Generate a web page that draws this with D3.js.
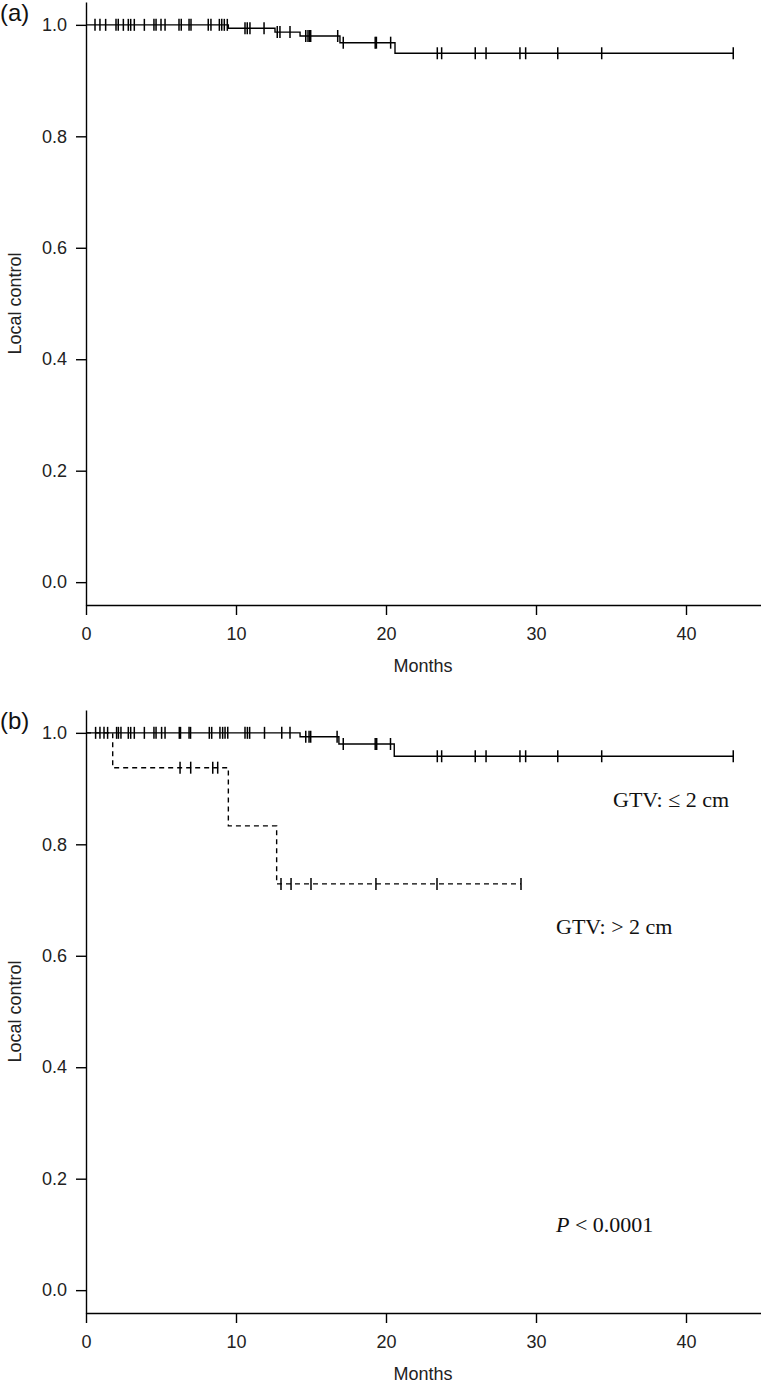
<!DOCTYPE html>
<html>
<head>
<meta charset="utf-8">
<script src="https://cdn.jsdelivr.net/npm/d3@7"></script>
<style>
  body { margin: 0; background: #fff; }
  svg { display: block; }
</style>
</head>
<body>
<div id="chart"></div>
<script>
// Panel (a): all lesions
const aEventTimes = [0, 9.49, 12.6, 14.27, 16.93, 20.6];
const aEventSurv = [1, 0.994, 0.987, 0.980, 0.968, 0.949];
const aEnd = 43.15;
const aCensor = [0.6, 0.93, 1.31, 2.0, 2.15, 2.49, 2.82, 2.98, 3.22, 3.89, 4.53, 4.67, 5.0, 5.27,
  6.2, 6.35, 6.87, 7.0, 8.15, 8.33, 8.89, 9.05, 9.22, 9.42, 10.6, 10.75, 10.93, 11.87, 12.75,
  12.93, 13.6, 14.65, 14.8, 14.9, 14.98, 16.78, 17.15, 19.28, 19.36, 20.31, 23.42, 23.71,
  25.95, 26.67, 28.93, 29.31, 31.45, 34.38, 43.15];

// Panel (b): GTV <= 2 cm
const smallEventTimes = [0, 14.27, 16.86, 20.55];
const smallEventSurv = [1, 0.993, 0.980, 0.958];
const smallEnd = 43.15;
const smallCensor = [0.64, 0.93, 1.2, 1.44, 2.04, 2.16, 2.33, 2.82, 2.98, 3.22, 3.89, 4.53, 4.67,
  5.04, 5.27, 6.22, 6.3, 6.87, 6.97, 8.22, 8.38, 8.93, 9.11, 9.27, 9.45, 10.6, 10.76, 10.91,
  11.9, 13.05, 13.6, 14.65, 14.87, 14.98, 16.74, 17.15, 19.28, 19.38, 20.3, 23.42, 23.71,
  25.95, 26.67, 28.93, 29.31, 31.45, 34.38, 43.15];

// Panel (b): GTV > 2 cm
const largeEventTimes = [0, 1.78, 9.49, 12.71];
const largeEventSurv = [1, 0.9375, 0.833, 0.729];
const largeEnd = 29.0;
const largeCensor = [6.27, 6.98, 8.45, 8.78, 13.0, 13.67, 15.0, 19.33, 23.4, 29.0];

const xTicks = [0, 10, 20, 30, 40];
const yTicks = [0, 0.2, 0.4, 0.6, 0.8, 1.0];

const W = 761, H = 1385;
const sansFont = "'Liberation Sans', Arial, sans-serif";
const serifFont = "'Liberation Serif', 'Times New Roman', serif";

const svg = d3.select("#chart").append("svg")
  .attr("width", W)
  .attr("height", H);

const x = d3.scaleLinear().domain([0, 45]).range([86, 761]);

// value of a KM step function at time t
function survAt(times, surv, t) {
  let v = surv[0];
  for (let i = 0; i < times.length; i++) {
    if (times[i] <= t) v = surv[i];
  }
  return v;
}

function drawPanel(top, label, curves) {
  const y = d3.scaleLinear().domain([-0.041, 1.041]).range([top + 603, top]);
  const g = svg.append("g");

  // axes
  const yAxis = g.append("g")
    .attr("transform", "translate(" + x(0) + ",0)")
    .call(d3.axisLeft(y).tickValues(yTicks).tickFormat(d3.format(".1f"))
      .tickSize(10).tickSizeOuter(0).tickPadding(9));
  const xAxis = g.append("g")
    .attr("transform", "translate(0," + y(-0.041) + ")")
    .call(d3.axisBottom(x).tickValues(xTicks).tickFormat(d3.format("d"))
      .tickSize(10).tickSizeOuter(0).tickPadding(12));
  [xAxis, yAxis].forEach(a => {
    a.selectAll("path, line").attr("stroke", "#000").attr("stroke-width", 1.4);
    a.selectAll("text").attr("fill", "#222")
      .style("font-family", sansFont).style("font-size", "18px");
  });

  g.append("text")
    .attr("x", 423).attr("y", top + 670)
    .attr("text-anchor", "middle")
    .style("font-family", sansFont).style("font-size", "18px")
    .attr("fill", "#222")
    .text("Months");

  g.append("text")
    .attr("transform", "translate(21," + y(0.5) + ")rotate(-90)")
    .attr("text-anchor", "middle")
    .style("font-family", sansFont).style("font-size", "18px")
    .attr("fill", "#222")
    .text("Local control");

  g.append("text")
    .attr("x", 0).attr("y", top + 19)
    .style("font-family", sansFont).style("font-size", "24px")
    .attr("fill", "#111")
    .text(label);

  // survival curves
  const line = d3.line()
    .x(d => x(d[0]))
    .y(d => y(d[1]))
    .curve(d3.curveStepAfter);

  curves.forEach(c => {
    const pts = c.times.map((t, i) => [t, c.surv[i]]);
    pts.push([c.end, c.surv[c.surv.length - 1]]);
    g.append("path")
      .datum(pts)
      .attr("d", line)
      .attr("fill", "none")
      .attr("stroke", "#000")
      .attr("stroke-width", 1.4)
      .attr("stroke-dasharray", c.dashed ? "5,4" : null);

    g.selectAll(null)
      .data(c.censor)
      .enter()
      .append("line")
      .attr("x1", d => x(d)).attr("x2", d => x(d))
      .attr("y1", d => y(survAt(c.times, c.surv, d)) - 6)
      .attr("y2", d => y(survAt(c.times, c.surv, d)) + 6)
      .attr("stroke", "#000")
      .attr("stroke-width", 1.5);
  });

  return { g: g, y: y };
}

drawPanel(2, "(a)", [
  { times: aEventTimes, surv: aEventSurv, end: aEnd, censor: aCensor, dashed: false }
]);

const pb = drawPanel(710, "(b)", [
  { times: smallEventTimes, surv: smallEventSurv, end: smallEnd, censor: smallCensor, dashed: false },
  { times: largeEventTimes, surv: largeEventSurv, end: largeEnd, censor: largeCensor, dashed: true }
]);

pb.g.append("text")
  .attr("x", 613).attr("y", 807)
  .style("font-family", serifFont).style("font-size", "22px")
  .attr("fill", "#111")
  .text("GTV: \u2264 2 cm");

pb.g.append("text")
  .attr("x", 556).attr("y", 934)
  .style("font-family", serifFont).style("font-size", "22px")
  .attr("fill", "#111")
  .text("GTV: > 2 cm");

const pText = pb.g.append("text")
  .attr("x", 556).attr("y", 1232)
  .style("font-family", serifFont).style("font-size", "22px")
  .attr("fill", "#111");
pText.append("tspan").style("font-style", "italic").text("P");
pText.append("tspan").text(" < 0.0001");
</script>
</body>
</html>
